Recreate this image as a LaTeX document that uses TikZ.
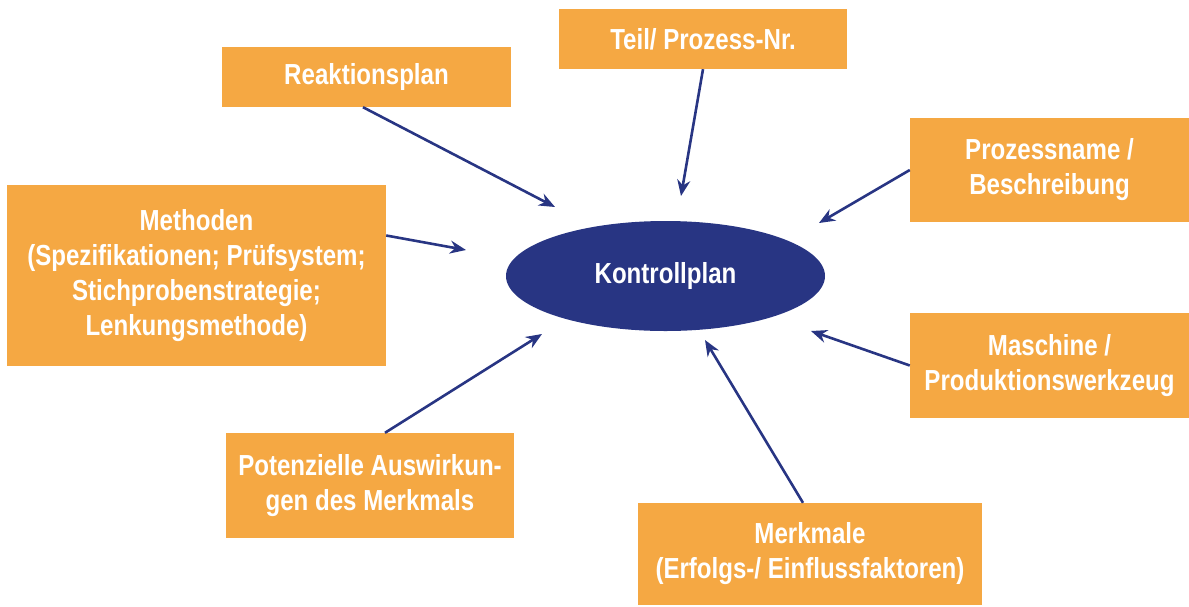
\documentclass[tikz,border=0pt]{standalone}
\usepackage{fontspec}
\setmainfont{Liberation Sans}[FakeStretch=0.83]
\usetikzlibrary{arrows.meta,shapes.geometric}
\definecolor{boxorange}{HTML}{F5A843}
\definecolor{navy}{HTML}{283583}
\begin{document}
\begin{tikzpicture}[x=1pt,y=-1pt,
  infobox/.style={fill=boxorange,draw=none,text=white,font=\bfseries\fontsize{29}{35}\selectfont,align=center,inner sep=0pt},
  conn/.style={draw=navy,line width=2.6pt,-{Stealth[length=16pt,width=13pt]}}]
\useasboundingbox (0,0) rectangle (1189,606);
\node[fill=navy,ellipse,minimum width=319pt,minimum height=110pt,inner sep=0pt,text=white,font=\bfseries\fontsize{29}{35}\selectfont] (k) at (665.5,276) {Kontrollplan};
\node[infobox,minimum width=289pt,minimum height=60pt] (r) at (366.5,77) {Reaktionsplan};
\node[infobox,minimum width=288pt,minimum height=60pt] (t) at (703,39) {Teil/ Prozess-Nr.};
\node[infobox,minimum width=279pt,minimum height=104pt] (p) at (1049.5,170) {Prozessname /\\Beschreibung};
\node[infobox,minimum width=379pt,minimum height=181pt] (m) at (196.5,275.5) {Methoden\\(Spezifikationen; Prüfsystem;\\Stichprobenstrategie;\\Lenkungsmethode)};
\node[infobox,minimum width=279pt,minimum height=105pt] (ma) at (1049.5,365.5) {Maschine /\\Produktionswerkzeug};
\node[infobox,minimum width=288pt,minimum height=105pt] (po) at (370,485.5) {Potenzielle Auswirkun-\\gen des Merkmals};
\node[infobox,minimum width=344pt,minimum height=102pt] (mk) at (810,554) {Merkmale\\(Erfolgs-/ Einflussfaktoren)};
\coordinate (e1) at (555,207);
\coordinate (e2) at (681,196);
\coordinate (e3) at (819,223);
\coordinate (e4) at (466,250);
\coordinate (e5) at (811,331);
\coordinate (e6) at (542,334);
\coordinate (e7) at (705,340);
\draw[conn] ([xshift=-3.5pt]r.south) -- (e1);
\draw[conn] (t.south) -- (e2);
\draw[conn] (p.west) -- (e3);
\draw[conn] ([yshift=40pt]m.east) -- (e4);
\draw[conn] (ma.west) -- (e5);
\draw[conn] ([xshift=15pt]po.north) -- (e6);
\draw[conn] ([xshift=-7pt]mk.north) -- (e7);
\end{tikzpicture}
\end{document}
